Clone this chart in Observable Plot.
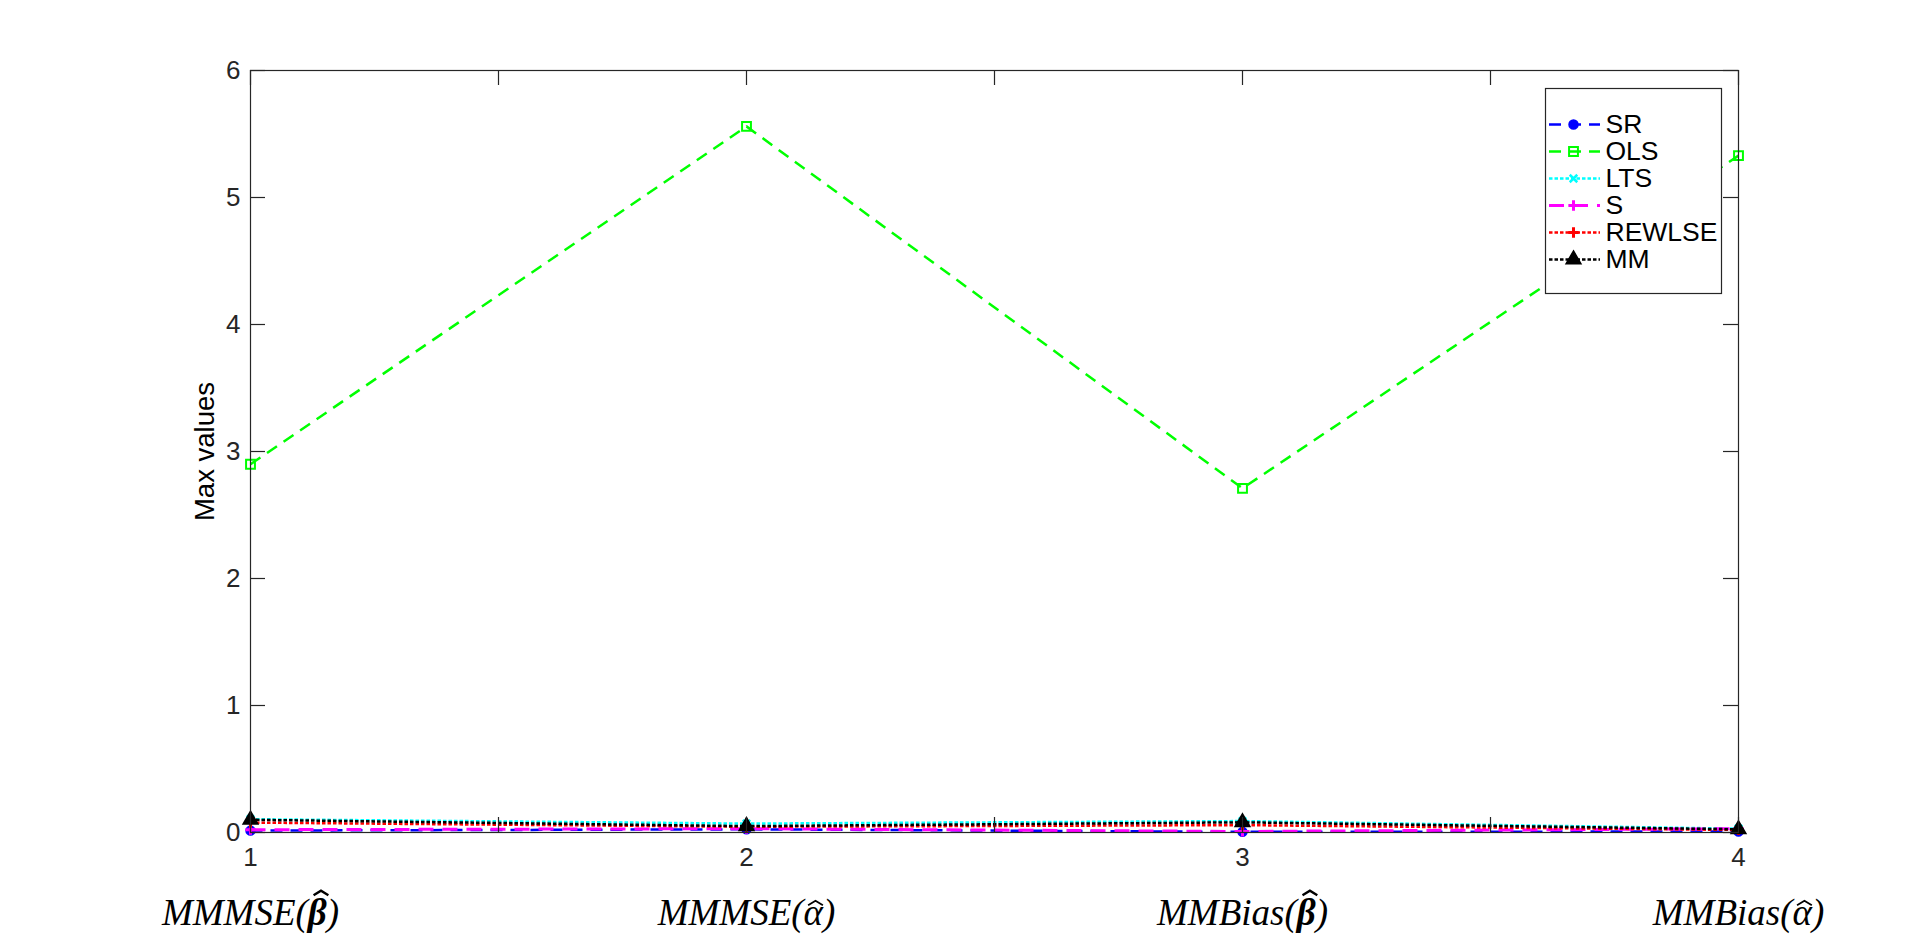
<!DOCTYPE html>
<html><head><meta charset="utf-8">
<script src="https://cdn.jsdelivr.net/npm/d3@7"></script>
<script src="https://cdn.jsdelivr.net/npm/@observablehq/plot@0.6"></script>
<style>
html,body{margin:0;padding:0;background:#fff;}
#wrap{position:relative;width:1920px;height:936px;overflow:hidden;background:#fff;}
#chart{position:absolute;left:0;top:0;}
#legend{position:absolute;left:1544px;top:87px;}
</style></head>
<body><div id="wrap"><div id="chart"></div><div id="legend"></div></div>
<script>
// ---------- data ----------
const xPositions = [1, 2, 3, 4];
const xTickMarks = [1, 1.5, 2, 2.5, 3, 3.5, 4];
const xNumberLabels = ["1", "2", "3", "4"];
const xMetricLabels = ["MMMSE(β\u0302)", "MMMSE(α\u0302)", "MMBias(β\u0302)", "MMBias(α\u0302)"];
const yTicks = [0, 1, 2, 3, 4, 5, 6];
const yTickLabels = ["0", "1", "2", "3", "4", "5", "6"];
const yLabel = "Max values";
const seriesNames = ["SR", "OLS", "LTS", "S", "REWLSE", "MM"];
const SR     = [0.015, 0.025, 0.005, 0.008];
const OLS    = [2.90, 5.56, 2.71, 5.33];
const LTS    = [0.105, 0.07, 0.09, 0.03];
const S      = [0.022, 0.03, 0.008, 0.03];
const REWLSE = [0.078, 0.045, 0.058, 0.02];
const MM     = [0.10, 0.05, 0.08, 0.025];
const seriesValues = {SR, OLS, LTS, S, REWLSE, MM};

// ---------- styles ----------
const axisColor = "#262626";
const styles = {
  SR:     {color: "#0000ff", dash: "12,8",  width: 2.5, symbol: "circle",   r: 4.5, filled: true,  sw: 1.5},
  OLS:    {color: "#00ff00", dash: "12,8",  width: 2.5, symbol: "square",   r: 5,   filled: false, sw: 2},
  LTS:    {color: "#00ffff", dash: "3.5,2", width: 2.5, symbol: "times",    r: 3.5, filled: false, sw: 2.5},
  S:      {color: "#ff00ff", dash: "15,9",  width: 3,   symbol: "plus",     r: 3.4, filled: false, sw: 3},
  REWLSE: {color: "#ff0000", dash: "3.5,2", width: 2.5, symbol: "plus",     r: 3.4, filled: false, sw: 3},
  MM:     {color: "#000000", dash: "3.5,2", width: 2.5, symbol: "triangle", r: 5.5, filled: true,  sw: 1.5}
};

// ---------- layout ----------
const W = 1920, H = 936;
const mL = 250, mR = 182, mT = 70, mB = 104;
const plotW = W - mL - mR, plotH = H - mT - mB;
const tickPx = 15;
const xDomain = [1, 4], yDomain = [0, 6];
const xTickLen = tickPx * (xDomain[1] - xDomain[0]) / plotW;
const yTickLen = tickPx * (yDomain[1] - yDomain[0]) / plotH;
const sansFont = "'Liberation Sans', Arial, sans-serif";
const serifFont = "'Liberation Serif', 'DejaVu Serif', serif";
const metricFontSize = 37;

const rows = seriesNames.flatMap(name => xPositions.map((x, i) => ({name, x, v: seriesValues[name][i]})));

const seriesMarks = seriesNames.flatMap(name => {
  const st = styles[name];
  const data = rows.filter(d => d.name === name);
  return [
    Plot.line(data, {x: "x", y: "v", stroke: st.color, strokeWidth: st.width, strokeDasharray: st.dash, strokeLinecap: "butt", strokeLinejoin: "miter"}),
    Plot.dot(data, {x: "x", y: "v", symbol: st.symbol, r: st.r,
      fill: st.filled ? st.color : "none", stroke: st.color, strokeWidth: st.sw})
  ];
});

const chart = Plot.plot({
  width: W, height: H,
  marginLeft: mL, marginRight: mR, marginTop: mT, marginBottom: mB,
  style: {fontFamily: sansFont, color: axisColor, background: "#fff", overflow: "visible"},
  x: {domain: xDomain},
  y: {domain: yDomain},
  marks: [
    ...seriesMarks,
    Plot.frame({stroke: axisColor, strokeWidth: 1.2}),
    Plot.ruleX(xTickMarks, {x: d => d, y1: yDomain[0], y2: yDomain[0] + yTickLen, stroke: axisColor, strokeWidth: 1.2}),
    Plot.ruleX(xTickMarks, {x: d => d, y1: yDomain[1] - yTickLen, y2: yDomain[1], stroke: axisColor, strokeWidth: 1.2}),
    Plot.ruleY(yTicks, {y: d => d, x1: xDomain[0], x2: xDomain[0] + xTickLen, stroke: axisColor, strokeWidth: 1.2}),
    Plot.ruleY(yTicks, {y: d => d, x1: xDomain[1] - xTickLen, x2: xDomain[1], stroke: axisColor, strokeWidth: 1.2}),
    Plot.axisX(xPositions, {tickSize: 0, tickPadding: 15, tickFormat: d => xNumberLabels[xPositions.indexOf(d)], fontSize: 26, fill: axisColor, label: null}),
    Plot.axisX(xPositions, {tickSize: 0, tickPadding: 66, tickFormat: d => xMetricLabels[xPositions.indexOf(d)], fontSize: metricFontSize, fontFamily: serifFont, fontStyle: "italic", fill: "#000", label: null}),
    Plot.axisY(yTicks, {tickSize: 0, tickPadding: 10, tickFormat: d => yTickLabels[yTicks.indexOf(d)], fontSize: 26, fill: axisColor, label: null}),
    Plot.text([yLabel], {text: d => d, frameAnchor: "left", dx: -45, rotate: -90, textAnchor: "middle", lineAnchor: "middle", fontSize: 27.5, fill: "#000"})
  ]
});
document.getElementById("chart").appendChild(chart);

// LaTeX-like hats (drawn as strokes) and bold beta on the metric labels
const groups = chart.querySelectorAll('g[aria-label="x-axis tick label"]');
const metricGroup = groups[groups.length - 1];
metricGroup.querySelectorAll("text").forEach(t => {
  const s = t.textContent;
  const k = s.indexOf("\u0302");
  if (k < 1) return;
  const prefix = s.slice(0, k - 1), greek = s[k - 1], suffix = s.slice(k + 1);
  const isBeta = greek === "β";
  t.textContent = "";
  const sel = d3.select(t);
  sel.append("tspan").text(prefix);
  const g = sel.append("tspan").text(greek);
  if (isBeta) g.attr("font-weight", "bold");
  sel.append("tspan").text(suffix);
  const idx = prefix.length;
  const start = t.getStartPositionOfChar(idx);
  const adv = t.getExtentOfChar(idx).width;
  const fs = metricFontSize;
  const cx = start.x + adv / 2 + (isBeta ? 0.1 : 0.06) * fs;
  const base = start.y - (isBeta ? 0.80 : 0.53) * fs;
  const hw = 0.2 * fs, hh = 0.12 * fs;
  const path = `M${cx - hw},${base} L${cx},${base - hh} L${cx + hw},${base}`;
  const p = d3.select(t.parentNode).append("path")
    .attr("d", path).attr("fill", "none").attr("stroke", "#000")
    .attr("stroke-width", isBeta ? 2.4 : 1.8).attr("stroke-linejoin", "miter");
  if (t.getAttribute("transform")) p.attr("transform", t.getAttribute("transform"));
});

// ---------- legend ----------
const LW = 176, LH = 205;
const legendLine = [4, 55], legendMarkerX = 28, legendTextX = 60;
const legendMarks = [Plot.frame({fill: "#fff", stroke: axisColor, strokeWidth: 1.2})];
seriesNames.forEach(name => {
  const st = styles[name];
  legendMarks.push(
    Plot.ruleY([name], {y: d => d, x1: legendLine[0], x2: legendLine[1], stroke: st.color, strokeWidth: st.width, strokeDasharray: st.dash, strokeLinecap: "butt"}),
    Plot.dot([name], {x: legendMarkerX, y: d => d, symbol: st.symbol, r: st.r,
      fill: st.filled ? st.color : "none", stroke: st.color, strokeWidth: st.sw})
  );
});
legendMarks.push(Plot.text(seriesNames, {x: legendTextX, y: d => d, text: d => d, textAnchor: "start", fontSize: 26.5, fill: "#000"}));
const legend = Plot.plot({
  width: LW + 2, height: LH + 2,
  margin: 1,
  style: {fontFamily: sansFont, background: "transparent", overflow: "visible"},
  x: {domain: [0, LW], range: [1, LW + 1], axis: null},
  y: {type: "point", domain: seriesNames, range: [21, 188], axis: null},
  marks: legendMarks
});
document.getElementById("legend").appendChild(legend);
</script>
</body></html>
